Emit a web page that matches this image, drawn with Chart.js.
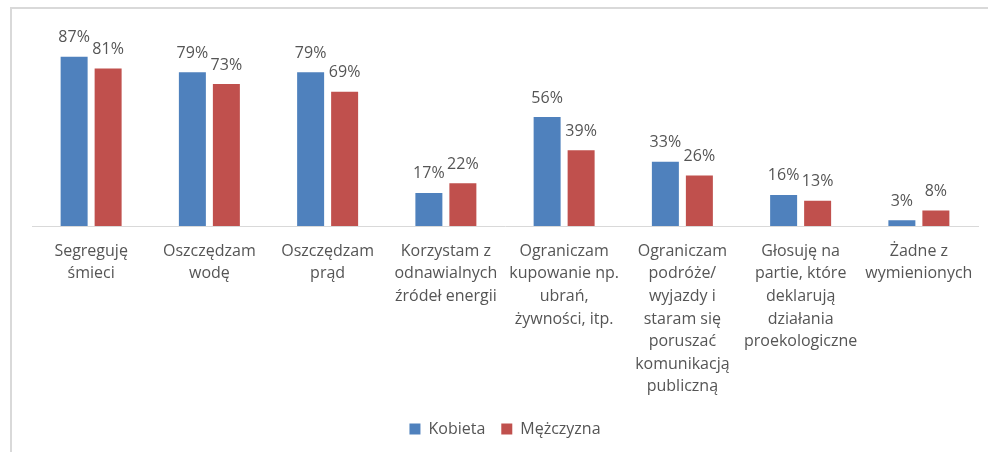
<!DOCTYPE html>
<html>
<head>
<meta charset="utf-8">
<script src="https://cdn.jsdelivr.net/npm/chart.js@4/dist/chart.umd.min.js"></script>
<style>
  html, body { margin: 0; padding: 0; background: #fff; overflow: hidden; }
  #frame { position: absolute; left: 10px; top: 7px; width: 1000px; height: 500px; border: 2px solid #d9d9d9; }
  #wrap { position: absolute; left: 0; top: 0; width: 988px; height: 452px; }
</style>
</head>
<body>
<div id="frame"></div>
<div id="wrap"><canvas id="chart"></canvas></div>
<script>
// Categories (wrapped the way the original labels are)
var categories = [
  ["Segreguję", "śmieci"],
  ["Oszczędzam", "wodę"],
  ["Oszczędzam", "prąd"],
  ["Korzystam z", "odnawialnych", "źródeł energii"],
  ["Ograniczam", "kupowanie np.", "ubrań,", "żywności, itp."],
  ["Ograniczam", "podróże/", "wyjazdy i", "staram się", "poruszać", "komunikacją", "publiczną"],
  ["Głosuję na", "partie, które", "deklarują", "działania", "proekologiczne"],
  ["Żadne z", "wymienionych"]
];
var seriesNames = ["Kobieta", "Mężczyzna"];
var kobieta = [87, 79, 79, 17, 56, 33, 16, 3];
var mezczyzna = [81, 73, 69, 22, 39, 26, 13, 8];

var textColor = "#555555";
var fontFamily = "'Open Sans', sans-serif";

// Value labels above bars
var valueLabels = {
  id: "valueLabels",
  afterDatasetsDraw: function(chart) {
    var ctx = chart.ctx;
    ctx.save();
    ctx.font = "16px " + fontFamily;
    ctx.fillStyle = textColor;
    ctx.textAlign = "center";
    ctx.textBaseline = "middle";
    chart.data.datasets.forEach(function(ds, i) {
      chart.getDatasetMeta(i).data.forEach(function(bar, j) {
        ctx.fillText(ds.data[j] + "%", bar.x, bar.y - 19);
      });
    });
    ctx.restore();
  }
};

var ctx = document.getElementById("chart").getContext("2d");
var chart = new Chart(ctx, {
  type: "bar",
  data: {
    labels: categories,
    datasets: [{
      label: seriesNames[0],
      backgroundColor: "#4f81bd",
      data: kobieta
    }, {
      label: seriesNames[1],
      backgroundColor: "#c0504d",
      data: mezczyzna
    }]
  },
  options: {
    responsive: true,
    maintainAspectRatio: false,
    animation: false,
    categoryPercentage: 0.575,
    barPercentage: 0.794,
    layout: { padding: { left: 32, right: 10, top: 31.5, bottom: 5 } },
    scales: {
      x: {
        grid: { display: false, drawTicks: false },
        border: { display: true, color: "#d9d9d9", width: 1 },
        ticks: {
          color: textColor,
          padding: 14,
          autoSkip: false,
          maxRotation: 0,
          font: { family: fontFamily, size: 16, lineHeight: 1.41 }
        },
        afterFit: function(scale) {
          var legendH = scale.chart.legend ? scale.chart.legend.height : 0;
          scale.height = 452 - 226 - legendH - 5;
        }
      },
      y: {
        display: false,
        min: 0,
        max: 100
      }
    },
    plugins: {
      legend: {
        position: "bottom",
        labels: {
          color: textColor,
          boxWidth: 11,
          boxHeight: 11,
          padding: 16,
          font: { family: fontFamily, size: 16 }
        }
      },
      tooltip: { enabled: false }
    }
  },
  plugins: [valueLabels]
});
</script>
</body>
</html>
